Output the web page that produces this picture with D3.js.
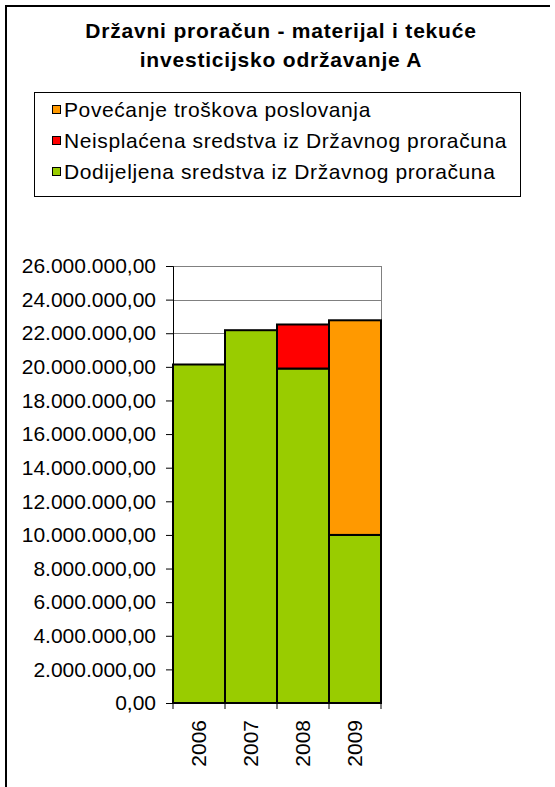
<!DOCTYPE html>
<html>
<head>
<meta charset="utf-8">
<script src="https://d3js.org/d3.v7.min.js"></script>
<style>
body { margin: 0; background: #fff; }
text { font-family: "Liberation Sans", Arial, sans-serif; fill: #000; }
</style>
</head>
<body>
<svg width="555" height="787"></svg>
<script>

var years = ["2006", "2007", "2008", "2009"];
var dodijeljena = [20140000, 22180000, 19900000, 10000000];
var neisplacena = [0, 0, 2620000, 0];
var povecanje = [0, 0, 0, 12770000];
var yTicks = [0, 2000000, 4000000, 6000000, 8000000, 10000000, 12000000,
              14000000, 16000000, 18000000, 20000000, 22000000, 24000000, 26000000];

var seriesNames = ["Dodijeljena sredstva iz Državnog proračuna",
                   "Neisplaćena sredstva iz Državnog proračuna",
                   "Povećanje troškova poslovanja"];
var colors = ["#99CC00", "#FF0000", "#FF9900"];

var svg = d3.select("svg");

// chart frame (cut off at right and bottom)
svg.append("path")
    .attr("d", "M550,6H6V800")
    .style("fill", "none")
    .style("stroke", "#000")
    .style("stroke-width", 2);

// title
var title = svg.append("text")
    .attr("text-anchor", "middle")
    .style("font-size", "21px")
    .style("font-weight", "bold")
    .style("letter-spacing", "0.8px");
title.append("tspan").attr("x", 281).attr("y", 38).text("Državni proračun - materijal i tekuće");
title.append("tspan").attr("x", 281).attr("y", 67).text("investicijsko održavanje A");

// legend
svg.append("rect")
    .attr("x", 34.5).attr("y", 92.5)
    .attr("width", 486).attr("height", 104)
    .style("fill", "#fff")
    .style("stroke", "#000")
    .style("stroke-width", 1);

var legendOrder = [2, 1, 0];
var legend = svg.selectAll(".lineLegend").data(legendOrder)
    .enter().append("g")
    .attr("class", "lineLegend")
    .attr("transform", function (d, i) { return "translate(52," + (109 + i * 31) + ")"; });

legend.append("rect")
    .attr("x", 0.5).attr("y", -3.5)
    .attr("width", 8).attr("height", 8)
    .style("fill", function (d) { return colors[d]; })
    .style("stroke", "#000")
    .style("stroke-width", 1);

legend.append("text")
    .attr("x", 12).attr("y", 7.5)
    .style("font-size", "21px")
    .style("letter-spacing", "0.6px")
    .text(function (d) { return seriesNames[d]; });

// plot area
var plotLeft = 173, plotRight = 381, plotTop = 266, plotBottom = 703;

var xScale = d3.scaleBand().domain(years).range([plotLeft, plotRight]).padding(0);
var yScale = d3.scaleLinear().domain([0, 26000000]).range([plotBottom, plotTop]);

var locale = d3.formatLocale({ decimal: ",", thousands: ".", grouping: [3], currency: ["", ""] });
var fmt = locale.format(",.2f");

// gridlines
svg.append("g").selectAll("line")
    .data(yTicks.slice(1))
    .enter().append("line")
    .attr("x1", plotLeft).attr("x2", plotRight)
    .attr("y1", function (d) { return Math.round(yScale(d)) + 0.5; })
    .attr("y2", function (d) { return Math.round(yScale(d)) + 0.5; })
    .style("stroke", "#808080")
    .style("stroke-width", 1);

svg.append("line")
    .attr("x1", plotRight + 0.5).attr("x2", plotRight + 0.5)
    .attr("y1", plotTop).attr("y2", plotBottom)
    .style("stroke", "#808080");

// stacked bars
var table = years.map(function (y, i) {
    return { year: y, s0: dodijeljena[i], s1: neisplacena[i], s2: povecanje[i] };
});
var stack = d3.stack().keys(["s0", "s1", "s2"])(table);

svg.append("g").selectAll("g")
    .data(stack)
    .enter().append("g")
    .style("fill", function (d, i) { return colors[i]; })
    .selectAll("rect")
    .data(function (d) { return d.filter(function (p) { return p[1] > p[0]; }); })
    .enter().append("rect")
    .attr("x", function (d) { return xScale(d.data.year); })
    .attr("width", xScale.bandwidth())
    .attr("y", function (d) { return yScale(d[1]); })
    .attr("height", function (d) { return yScale(d[0]) - yScale(d[1]); })
    .style("stroke", "#000")
    .style("stroke-width", 2);

// y axis
var yAxis = svg.append("g")
    .attr("transform", "translate(" + plotLeft + ",0)")
    .call(d3.axisLeft(yScale).tickValues(yTicks).tickFormat(fmt).tickSize(7).tickPadding(10));
yAxis.selectAll("text")
    .style("font-size", "21px")
    .style("font-family", "'Liberation Sans', Arial, sans-serif");
yAxis.select(".domain").style("stroke", "#000");

// x axis
var xAxis = svg.append("g")
    .attr("transform", "translate(0," + plotBottom + ")")
    .call(d3.axisBottom(xScale).tickSize(0).tickSizeOuter(0));
xAxis.select(".domain").style("stroke", "#000");
xAxis.selectAll("text")
    .style("font-size", "21px")
    .style("font-family", "'Liberation Sans', Arial, sans-serif")
    .attr("transform", "rotate(-90)")
    .attr("text-anchor", "end")
    .attr("x", -17)
    .attr("y", 0)
    .attr("dy", "0.35em");

// category boundary ticks
svg.append("g").selectAll("line")
    .data(years.concat(["end"]))
    .enter().append("line")
    .attr("x1", function (d, i) { return plotLeft + i * xScale.bandwidth(); })
    .attr("x2", function (d, i) { return plotLeft + i * xScale.bandwidth(); })
    .attr("y1", plotBottom).attr("y2", plotBottom + 6)
    .style("stroke", "#000");

</script>
</body>
</html>
